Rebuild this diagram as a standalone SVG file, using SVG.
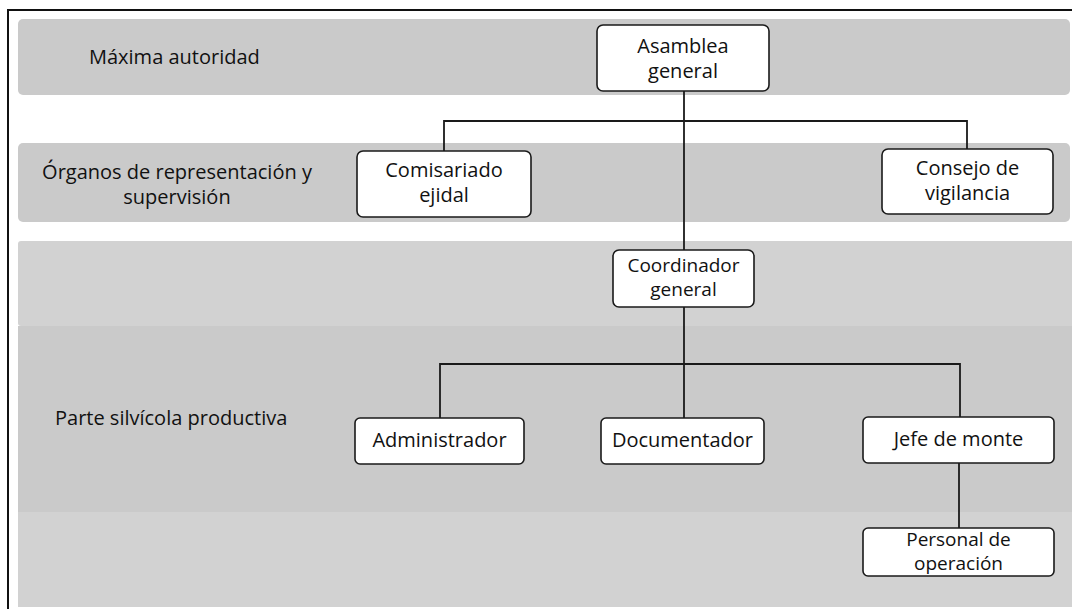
<svg xmlns="http://www.w3.org/2000/svg" width="1072" height="609" viewBox="0 0 1072 609">
<style>
.band{fill:#cacaca}
.bandl{fill:#d2d2d2}
.lbl{font-family:"Open Sans","Liberation Sans",sans-serif;font-size:20px;fill:#111111}
.node rect{fill:#ffffff;stroke:#1a1a1a;stroke-width:1.6}
.node text{font-family:"Open Sans","Liberation Sans",sans-serif;font-size:20px;fill:#111111;text-anchor:middle}
.node text.sm{font-size:19px}
.conn{fill:none;stroke:#1a1a1a;stroke-width:1.8}
</style>
<rect width="1072" height="609" fill="#ffffff"/>
<g id="bands">
<rect class="band" x="18" y="19" width="1052" height="76" rx="5"/>
<rect class="band" x="18" y="143" width="1052" height="79" rx="5"/>
<rect class="bandl" x="18" y="241" width="1060" height="85" rx="3"/>
<rect class="band" x="18" y="326" width="1060" height="186"/>
<rect class="bandl" x="18" y="512" width="1060" height="95"/>
</g>
<path d="M8,620 V10 H1080" fill="none" stroke="#111" stroke-width="2"/>
<g id="labels">
<text class="lbl" x="89" y="64">Máxima autoridad</text>
<text class="lbl" x="177" y="179" text-anchor="middle">Órganos de representación y</text>
<text class="lbl" x="177" y="204" text-anchor="middle">supervisión</text>
<text class="lbl" x="55" y="425">Parte silvícola productiva</text>
</g>
<g id="connectors">
<path class="conn" d="M684,91 V250"/>
<path class="conn" d="M444,151 V121 H967 V149"/>
<path class="conn" d="M684,307 V418"/>
<path class="conn" d="M440,418 V364 H960 V417"/>
<path class="conn" d="M959,463 V528"/>
</g>
<g id="asamblea" class="node">
<rect x="597" y="25" width="172" height="66" rx="6"/>
<text x="683" y="53">Asamblea</text>
<text x="683" y="78">general</text>
</g>
<g id="comisariado" class="node">
<rect x="357" y="151" width="174" height="66" rx="6"/>
<text x="444" y="177">Comisariado</text>
<text x="444" y="202">ejidal</text>
</g>
<g id="consejo" class="node">
<rect x="882" y="149" width="171" height="65" rx="6"/>
<text x="967.5" y="175">Consejo de</text>
<text x="967.5" y="200">vigilancia</text>
</g>
<g id="coordinador" class="node">
<rect x="613" y="250" width="141" height="57" rx="6"/>
<text class="sm" x="683.5" y="272">Coordinador</text>
<text class="sm" x="683.5" y="296">general</text>
</g>
<g id="administrador" class="node">
<rect x="355" y="418" width="169" height="46" rx="5"/>
<text x="439.5" y="447">Administrador</text>
</g>
<g id="documentador" class="node">
<rect x="601" y="418" width="163" height="46" rx="5"/>
<text x="682.5" y="447">Documentador</text>
</g>
<g id="jefe" class="node">
<rect x="863" y="417" width="191" height="46" rx="5"/>
<text x="958.5" y="446">Jefe de monte</text>
</g>
<g id="personal" class="node">
<rect x="863" y="528" width="191" height="48" rx="5"/>
<text class="sm" x="958.5" y="546">Personal de</text>
<text class="sm" x="958.5" y="570">operación</text>
</g>
</svg>
